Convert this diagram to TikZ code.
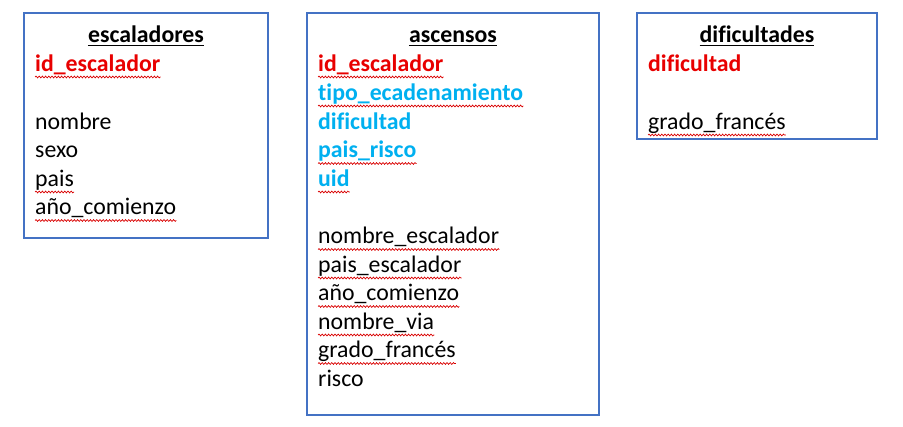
\documentclass[tikz,border=0pt]{standalone}
\usepackage{fontspec}
\setmainfont{Carlito}[Ligatures=CommonOff]
\usetikzlibrary{decorations.pathmorphing}
\definecolor{boxblue}{RGB}{68,114,196}
\definecolor{keyred}{RGB}{232,0,0}
\definecolor{fkblue}{RGB}{0,176,240}
\tikzset{
  tbox/.style={draw=boxblue,line width=2pt},
  fld/.style={anchor=base west,inner sep=0pt,font=\fontsize{23.8}{28}\selectfont},
  ttl/.style={anchor=base,inner sep=0pt,font=\fontsize{23.8}{28}\selectfont\bfseries},
  pk/.style={fld,font=\fontsize{23.8}{28}\selectfont\bfseries,text=keyred},
  fk/.style={fld,font=\fontsize{23.8}{28}\selectfont\bfseries,text=fkblue},
  squig/.style={draw=red!85!black,line width=0.7pt,decorate,decoration={snake,amplitude=0.9pt,segment length=3.2pt}},
  uline/.style={draw=black,line width=1.6pt}
}
\newcommand{\sqg}[1]{\draw[squig] ([yshift=-5.5pt]#1.base west) -- ([yshift=-5.5pt]#1.base east);}
\newcommand{\ttlline}[1]{\draw[uline] ([yshift=-3pt]#1.base west) -- ([yshift=-3pt]#1.base east);}
\begin{document}
\begin{tikzpicture}[x=1pt,y=-1pt]
\useasboundingbox (0,0) rectangle (903,427);
% boxes
\draw[tbox] (24,13) rectangle (268,238);
\draw[tbox] (307,13) rectangle (599,415);
\draw[tbox] (637,13) rectangle (877,139);
% escaladores
\node[ttl] (t1) at (146,42.5) {escaladores};
\ttlline{t1}
\node[pk] (e1) at (35,71.5) {id\_escalador};
\node[fld] (e2) at (35,129.5) {nombre};
\node[fld] (e3) at (35,158) {sexo};
\node[fld] (e4) at (35,186.5) {pais};
\node[fld] (e5) at (35,215) {año\_comienzo};
\sqg{e1}\sqg{e4}\sqg{e5}
% ascensos
\node[ttl] (t2) at (453,42.5) {ascensos};
\ttlline{t2}
\node[pk] (a1) at (318,71.5) {id\_escalador};
\node[fk] (a2) at (318,100.5) {tipo\_ecadenamiento};
\node[fk] (a3) at (318,129.5) {dificultad};
\node[fk] (a4) at (318,158) {pais\_risco};
\node[fk] (a5) at (318,186.5) {uid};
\node[fld] (a6) at (318,244) {nombre\_escalador};
\node[fld] (a7) at (318,272.5) {pais\_escalador};
\node[fld] (a8) at (318,301) {año\_comienzo};
\node[fld] (a9) at (318,329.5) {nombre\_via};
\node[fld] (a10) at (318,358) {grado\_francés};
\node[fld] (a11) at (318,386.5) {risco};
\sqg{a1}\sqg{a2}\sqg{a4}\sqg{a5}\sqg{a6}\sqg{a7}\sqg{a8}\sqg{a9}\sqg{a10}
% dificultades
\node[ttl] (t3) at (757,42.5) {dificultades};
\ttlline{t3}
\node[pk] (d1) at (648,71.5) {dificultad};
\node[fld] (d2) at (648,129.5) {grado\_francés};
\sqg{d2}
\end{tikzpicture}
\end{document}
